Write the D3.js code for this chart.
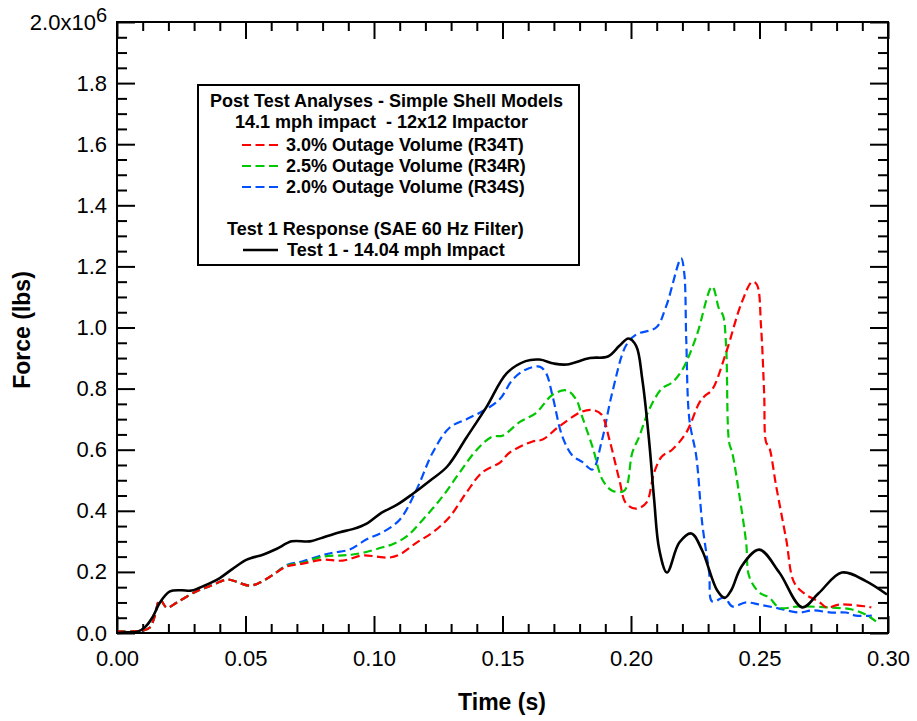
<!DOCTYPE html>
<html>
<head>
<meta charset="utf-8">
<script src="https://cdn.jsdelivr.net/npm/d3@7"></script>
<style>
  html, body { margin: 0; padding: 0; background: #fff; }
  svg { display: block; font-family: "Liberation Sans", Arial, sans-serif; }
</style>
</head>
<body>
<svg id="chart" width="917" height="721"></svg>
<script>
// Force (millions of lbs) versus time (s)
const test1 = [[0,0],[0.004,0.002],[0.008,0.004],[0.011,0.02],[0.014,0.054],[0.0167,0.10],[0.0206,0.136],[0.025,0.14],[0.029,0.139],[0.034,0.155],[0.040,0.18],[0.045,0.21],[0.0505,0.24],[0.057,0.257],[0.062,0.275],[0.068,0.30],[0.075,0.30],[0.081,0.315],[0.0867,0.33],[0.0917,0.34],[0.0975,0.36],[0.103,0.394],[0.109,0.42],[0.115,0.455],[0.122,0.50],[0.1285,0.545],[0.136,0.64],[0.1438,0.74],[0.1516,0.85],[0.159,0.89],[0.1644,0.895],[0.170,0.882],[0.175,0.879],[0.184,0.90],[0.191,0.905],[0.1955,0.94],[0.199,0.964],[0.202,0.94],[0.2044,0.83],[0.207,0.633],[0.209,0.437],[0.211,0.273],[0.214,0.198],[0.2188,0.296],[0.2235,0.326],[0.2277,0.27],[0.2335,0.14],[0.2365,0.115],[0.239,0.14],[0.243,0.218],[0.2499,0.273],[0.2577,0.198],[0.2666,0.084],[0.273,0.13],[0.282,0.198],[0.2914,0.17],[0.2996,0.126]];

const r34t = [[0,0.005],[0.006,0.005],[0.010,0.008],[0.0128,0.018],[0.0145,0.05],[0.0167,0.11],[0.0194,0.083],[0.0233,0.10],[0.031,0.137],[0.036,0.153],[0.0427,0.175],[0.045,0.172],[0.0517,0.155],[0.0556,0.165],[0.0606,0.19],[0.066,0.218],[0.0723,0.227],[0.080,0.24],[0.0878,0.237],[0.0956,0.254],[0.101,0.25],[0.106,0.247],[0.110,0.257],[0.1166,0.296],[0.123,0.33],[0.1294,0.38],[0.136,0.46],[0.142,0.525],[0.149,0.558],[0.1527,0.59],[0.1617,0.627],[0.1656,0.633],[0.172,0.676],[0.181,0.725],[0.185,0.73],[0.1885,0.715],[0.1916,0.633],[0.1955,0.50],[0.198,0.425],[0.202,0.407],[0.206,0.427],[0.209,0.525],[0.212,0.578],[0.216,0.60],[0.2215,0.656],[0.2266,0.754],[0.2286,0.775],[0.2316,0.797],[0.237,0.918],[0.243,1.08],[0.2472,1.15],[0.249,1.14],[0.2506,1.003],[0.2518,0.787],[0.2526,0.623],[0.2537,0.61],[0.2565,0.48],[0.2604,0.306],[0.2635,0.165],[0.268,0.126],[0.273,0.103],[0.2763,0.083],[0.281,0.093],[0.2914,0.087],[0.2935,0.084]];

const r34r = [[0,0.005],[0.006,0.005],[0.010,0.008],[0.0128,0.018],[0.0145,0.05],[0.0167,0.11],[0.0194,0.083],[0.0233,0.10],[0.031,0.137],[0.036,0.153],[0.0427,0.175],[0.045,0.172],[0.0517,0.155],[0.0556,0.165],[0.0606,0.19],[0.066,0.22],[0.0723,0.23],[0.080,0.25],[0.0878,0.254],[0.0917,0.257],[0.097,0.265],[0.103,0.28],[0.107,0.29],[0.1127,0.316],[0.119,0.371],[0.1267,0.447],[0.1333,0.525],[0.140,0.60],[0.146,0.643],[0.150,0.646],[0.1566,0.69],[0.163,0.72],[0.1695,0.78],[0.175,0.794],[0.1787,0.764],[0.181,0.708],[0.185,0.61],[0.189,0.50],[0.1927,0.466],[0.1974,0.466],[0.2005,0.59],[0.2032,0.643],[0.207,0.73],[0.212,0.80],[0.216,0.82],[0.220,0.862],[0.2254,0.97],[0.2316,1.134],[0.2343,1.06],[0.2358,1.04],[0.237,0.94],[0.2382,0.623],[0.2394,0.59],[0.242,0.46],[0.2448,0.296],[0.246,0.185],[0.250,0.132],[0.2538,0.116],[0.2577,0.083],[0.2654,0.087],[0.278,0.083],[0.286,0.077],[0.2914,0.06],[0.2953,0.038]];

const r34s = [[0,0.005],[0.006,0.005],[0.010,0.008],[0.0128,0.018],[0.0145,0.05],[0.0167,0.11],[0.0194,0.083],[0.0233,0.10],[0.031,0.137],[0.036,0.153],[0.0427,0.175],[0.045,0.172],[0.0517,0.155],[0.0556,0.165],[0.0606,0.19],[0.066,0.222],[0.0723,0.235],[0.080,0.255],[0.084,0.263],[0.0905,0.273],[0.097,0.306],[0.1034,0.33],[0.110,0.371],[0.1166,0.47],[0.1228,0.59],[0.1294,0.672],[0.136,0.70],[0.142,0.725],[0.1488,0.764],[0.154,0.83],[0.159,0.862],[0.1644,0.872],[0.167,0.85],[0.1695,0.775],[0.1733,0.643],[0.1772,0.581],[0.181,0.56],[0.185,0.535],[0.1885,0.624],[0.1927,0.787],[0.198,0.94],[0.202,0.977],[0.2098,1.0],[0.2137,1.07],[0.2195,1.226],[0.2207,1.18],[0.2215,0.96],[0.2227,0.70],[0.2254,0.578],[0.2277,0.36],[0.2304,0.198],[0.2316,0.103],[0.2363,0.116],[0.2394,0.087],[0.2448,0.10],[0.25,0.093],[0.2577,0.08],[0.2654,0.067],[0.2705,0.074],[0.278,0.067],[0.2836,0.067],[0.2875,0.057],[0.2937,0.057]];

const xMajorTicks = [0, 0.05, 0.10, 0.15, 0.20, 0.25, 0.30];
const yMajorTicks = [0, 0.2, 0.4, 0.6, 0.8, 1.0, 1.2, 1.4, 1.6, 1.8, 2.0];

const legendTitle = ["Post Test Analyses - Simple Shell Models", "14.1 mph impact  - 12x12 Impactor"];
const modelSeries = [
  {name: "3.0% Outage Volume (R34T)", data: r34t, color: "#ff0000"},
  {name: "2.5% Outage Volume (R34R)", data: r34r, color: "#00c800"},
  {name: "2.0% Outage Volume (R34S)", data: r34s, color: "#0050ff"}
];
const testTitle = "Test 1 Response (SAE 60 Hz Filter)";
const testName = "Test 1 - 14.04 mph Impact";

const svg = d3.select("#chart");
const L = 117, R = 888, T = 22, B = 633;
const x = d3.scaleLinear().domain([0, 0.30]).range([L, R]);
const y = d3.scaleLinear().domain([0, 2.0]).range([B, T]);

const xMinor = d3.range(0, 31).map(i => i / 100).filter(v => Math.round(v * 100) % 5 !== 0);
const yMinor = d3.range(0, 41).map(i => i / 20).filter(v => Math.round(v * 20) % 4 !== 0);

function styleAxis(g) {
  g.select(".domain").remove();
  g.selectAll(".tick line").attr("stroke", "#000").attr("stroke-width", 2);
  g.selectAll("text").attr("fill", "#000").attr("font-size", 22)
    .attr("font-family", "'Liberation Sans', Arial, sans-serif");
}

// bottom
svg.append("g").attr("transform", `translate(0,${B})`)
  .call(d3.axisBottom(x).tickValues(xMajorTicks).tickSizeInner(-17).tickSizeOuter(0).tickPadding(17).tickFormat(d3.format(".2f")))
  .call(styleAxis);
svg.append("g").attr("transform", `translate(0,${B})`)
  .call(d3.axisBottom(x).tickValues(xMinor).tickSizeInner(-9).tickSizeOuter(0).tickFormat(""))
  .call(styleAxis);
// top
svg.append("g").attr("transform", `translate(0,${T})`)
  .call(d3.axisTop(x).tickValues(xMajorTicks).tickSizeInner(-17).tickSizeOuter(0).tickFormat(""))
  .call(styleAxis);
svg.append("g").attr("transform", `translate(0,${T})`)
  .call(d3.axisTop(x).tickValues(xMinor).tickSizeInner(-9).tickSizeOuter(0).tickFormat(""))
  .call(styleAxis);
// left
const yAxisG = svg.append("g").attr("transform", `translate(${L},0)`)
  .call(d3.axisLeft(y).tickValues(yMajorTicks).tickSizeInner(-18).tickSizeOuter(0).tickPadding(10)
    .tickFormat(d => d === 2.0 ? "2.0x10" : d3.format(".1f")(d)))
  .call(styleAxis);
yAxisG.selectAll(".tick").filter(d => d === 2.0).select("text")
  .append("tspan").attr("dy", -8).attr("font-size", 20).text("6");
svg.append("g").attr("transform", `translate(${L},0)`)
  .call(d3.axisLeft(y).tickValues(yMinor).tickSizeInner(-10).tickSizeOuter(0).tickFormat(""))
  .call(styleAxis);
// right
svg.append("g").attr("transform", `translate(${R},0)`)
  .call(d3.axisRight(y).tickValues(yMajorTicks).tickSizeInner(-18).tickSizeOuter(0).tickFormat(""))
  .call(styleAxis);
svg.append("g").attr("transform", `translate(${R},0)`)
  .call(d3.axisRight(y).tickValues(yMinor).tickSizeInner(-10).tickSizeOuter(0).tickFormat(""))
  .call(styleAxis);

// curves
const line = d3.line().x(d => x(d[0])).y(d => y(d[1])).curve(d3.curveCatmullRom.alpha(0.5));
const plot = svg.append("g");
[modelSeries[2], modelSeries[1], modelSeries[0]].forEach(s => {
  plot.append("path").datum(s.data).attr("d", line)
    .attr("fill", "none").attr("stroke", s.color).attr("stroke-width", 2.2)
    .attr("stroke-dasharray", "8.5,4.5");
});
plot.append("path").datum(test1).attr("d", line)
  .attr("fill", "none").attr("stroke", "#000").attr("stroke-width", 2.6);

// frame
svg.append("rect").attr("x", L).attr("y", T).attr("width", R - L).attr("height", B - T)
  .attr("fill", "none").attr("stroke", "#000").attr("stroke-width", 2);

// axis titles
svg.append("text").attr("x", 502).attr("y", 710).attr("text-anchor", "middle")
  .attr("font-size", 23).attr("font-weight", "bold").text("Time (s)");
svg.append("text").attr("transform", "translate(30,330) rotate(-90)").attr("text-anchor", "middle")
  .attr("font-size", 23).attr("font-weight", "bold").text("Force (lbs)");

// legend
const lg = svg.append("g").attr("font-size", 18).attr("font-weight", "bold");
lg.append("rect").attr("x", 198).attr("y", 85).attr("width", 381).attr("height", 180)
  .attr("fill", "#fff").attr("stroke", "#000").attr("stroke-width", 2);
lg.append("text").attr("x", 210).attr("y", 107).text(legendTitle[0]);
lg.append("text").attr("x", 235).attr("y", 128).style("white-space", "pre").text(legendTitle[1]);
modelSeries.forEach((s, i) => {
  const by = 151 + i * 21;
  lg.append("line").attr("x1", 242).attr("x2", 278).attr("y1", by - 6).attr("y2", by - 6)
    .attr("stroke", s.color).attr("stroke-width", 2.2).attr("stroke-dasharray", "9,4.5");
  lg.append("text").attr("x", 286).attr("y", by).text(s.name);
});
lg.append("text").attr("x", 227).attr("y", 235).text(testTitle);
lg.append("line").attr("x1", 243).attr("x2", 278).attr("y1", 250).attr("y2", 250)
  .attr("stroke", "#000").attr("stroke-width", 2.6);
lg.append("text").attr("x", 287).attr("y", 256).text(testName);
</script>
</body>
</html>
